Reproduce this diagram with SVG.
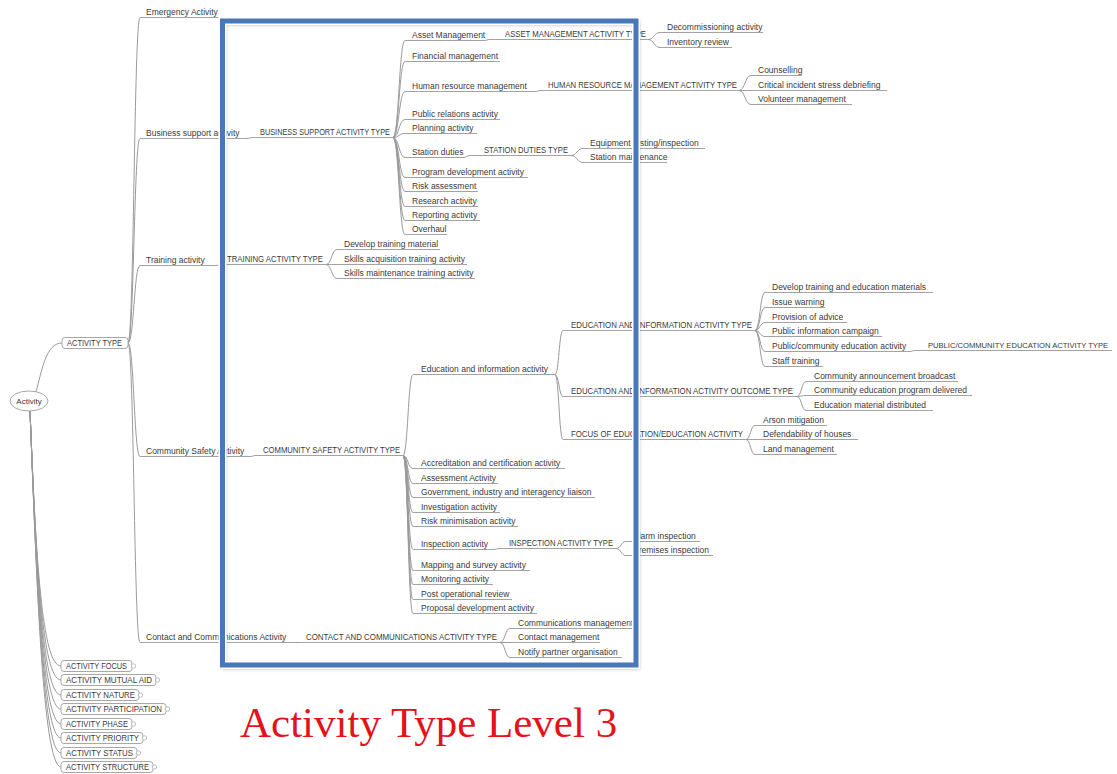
<svg xmlns="http://www.w3.org/2000/svg" width="1117" height="774" viewBox="0 0 1117 774">
<defs>
<style>
.t{font-family:"Liberation Sans",Arial,sans-serif;font-size:8.5px;fill:#3a3a3a}
.c{font-family:"Liberation Sans",Arial,sans-serif;font-size:8.3px;fill:#3a3a3a}
.u{stroke:#a3a3a3;stroke-width:1;fill:none}
.k{stroke:#9a9a9a;stroke-width:1;fill:none}
.b{fill:#fff;stroke:#a8a8a8;stroke-width:1}
.ind{fill:#fff;stroke:#b0b0b0;stroke-width:0.8}
.title{font-family:"Liberation Serif","Times New Roman",serif;font-size:43px;fill:#e3121b}
</style>
<filter id="sh" x="-5%" y="-5%" width="110%" height="110%"><feGaussianBlur stdDeviation="1.5"/></filter>
</defs>
<rect width="1117" height="774" fill="#fff"/>

<g id="connectors">
<path class="k" d="M36 392 C42 370 46 343 62 343"/>
<path class="k" d="M30 411 C36 560 42 666 61 666"/>
<path class="k" d="M30 411 C36 560 42 680 61 680"/>
<path class="k" d="M30 411 C36 560 42 695 61 695"/>
<path class="k" d="M30 411 C36 560 42 709 61 709"/>
<path class="k" d="M30 411 C36 560 42 724 61 724"/>
<path class="k" d="M30 411 C36 560 42 738 61 738"/>
<path class="k" d="M30 411 C36 560 42 753 61 753"/>
<path class="k" d="M30 411 C36 560 42 767 61 767"/>
<path class="k" d="M128 343 C134 343 134 17.5 140 17.5"/>
<path class="k" d="M128 343 C134 343 134 138.5 140 138.5"/>
<path class="k" d="M128 343 C134 343 134 265.5 140 265.5"/>
<path class="k" d="M128 343 C134 343 134 456.5 140 456.5"/>
<path class="k" d="M128 343 C134 343 134 642.5 140 642.5"/>
<path class="k" d="M246 138.5 C250 138.5 250 137.5 254 137.5"/>
<path class="k" d="M216 265.5 C218.5 265.5 218.5 264.5 221 264.5"/>
<path class="k" d="M250 456.5 C253 456.5 253 455.5 256 455.5"/>
<path class="k" d="M290 642.5 C294 642.5 294 642.5 298 642.5"/>
<path class="k" d="M393 137.5 C399 137.5 399 40.5 405 40.5"/>
<path class="k" d="M393 137.5 C399 137.5 399 61.5 405 61.5"/>
<path class="k" d="M393 137.5 C399 137.5 399 91.5 405 91.5"/>
<path class="k" d="M393 137.5 C399 137.5 399 119.5 405 119.5"/>
<path class="k" d="M393 137.5 C399 137.5 399 133.5 405 133.5"/>
<path class="k" d="M393 137.5 C399 137.5 399 157.5 405 157.5"/>
<path class="k" d="M393 137.5 C399 137.5 399 177.5 405 177.5"/>
<path class="k" d="M393 137.5 C399 137.5 399 191.5 405 191.5"/>
<path class="k" d="M393 137.5 C399 137.5 399 206.5 405 206.5"/>
<path class="k" d="M393 137.5 C399 137.5 399 220.5 405 220.5"/>
<path class="k" d="M393 137.5 C399 137.5 399 234.5 405 234.5"/>
<path class="k" d="M484 40.5 C487 40.5 487 39.5 490 39.5"/>
<path class="k" d="M648 39.5 C654 39.5 654 32.5 660 32.5"/>
<path class="k" d="M648 39.5 C654 39.5 654 47.5 660 47.5"/>
<path class="k" d="M535 91.5 C538 91.5 538 90.5 541 90.5"/>
<path class="k" d="M739 90.5 C745 90.5 745 75.5 751 75.5"/>
<path class="k" d="M739 90.5 C745 90.5 745 90.5 751 90.5"/>
<path class="k" d="M739 90.5 C745 90.5 745 104.5 751 104.5"/>
<path class="k" d="M463 157.5 C466.5 157.5 466.5 155.5 470 155.5"/>
<path class="k" d="M571 155.5 C577 155.5 577 148.5 583 148.5"/>
<path class="k" d="M571 155.5 C577 155.5 577 162.5 583 162.5"/>
<path class="k" d="M326 264.5 C331.5 264.5 331.5 249.5 337 249.5"/>
<path class="k" d="M326 264.5 C331.5 264.5 331.5 264.5 337 264.5"/>
<path class="k" d="M326 264.5 C331.5 264.5 331.5 278.5 337 278.5"/>
<path class="k" d="M403 455.5 C408 455.5 408 374.5 413 374.5"/>
<path class="k" d="M403 455.5 C408 455.5 408 468.5 413 468.5"/>
<path class="k" d="M403 455.5 C408 455.5 408 483.5 413 483.5"/>
<path class="k" d="M403 455.5 C408 455.5 408 497.5 413 497.5"/>
<path class="k" d="M403 455.5 C408 455.5 408 512.5 413 512.5"/>
<path class="k" d="M403 455.5 C408 455.5 408 526.5 413 526.5"/>
<path class="k" d="M403 455.5 C408 455.5 408 549.5 413 549.5"/>
<path class="k" d="M403 455.5 C408 455.5 408 570.5 413 570.5"/>
<path class="k" d="M403 455.5 C408 455.5 408 584.5 413 584.5"/>
<path class="k" d="M403 455.5 C408 455.5 408 599.5 413 599.5"/>
<path class="k" d="M403 455.5 C408 455.5 408 613.5 413 613.5"/>
<path class="k" d="M555 374.5 C559 374.5 559 330.5 563 330.5"/>
<path class="k" d="M555 374.5 C559 374.5 559 396.5 563 396.5"/>
<path class="k" d="M555 374.5 C559 374.5 559 439.5 563 439.5"/>
<path class="k" d="M755 330.5 C760 330.5 760 292.5 765 292.5"/>
<path class="k" d="M755 330.5 C760 330.5 760 307.5 765 307.5"/>
<path class="k" d="M755 330.5 C760 330.5 760 322.5 765 322.5"/>
<path class="k" d="M755 330.5 C760 330.5 760 336.5 765 336.5"/>
<path class="k" d="M755 330.5 C760 330.5 760 351.5 765 351.5"/>
<path class="k" d="M755 330.5 C760 330.5 760 366.5 765 366.5"/>
<path class="k" d="M910 351.5 C912.5 351.5 912.5 350.5 915 350.5"/>
<path class="k" d="M797 396.5 C801.5 396.5 801.5 381.5 806 381.5"/>
<path class="k" d="M797 396.5 C801.5 396.5 801.5 395.5 806 395.5"/>
<path class="k" d="M797 396.5 C801.5 396.5 801.5 410.5 806 410.5"/>
<path class="k" d="M746 439.5 C750.5 439.5 750.5 425.5 755 425.5"/>
<path class="k" d="M746 439.5 C750.5 439.5 750.5 439.5 755 439.5"/>
<path class="k" d="M746 439.5 C750.5 439.5 750.5 454.5 755 454.5"/>
<path class="k" d="M493 549.5 C496.5 549.5 496.5 548.5 500 548.5"/>
<path class="k" d="M616 548.5 C621 548.5 621 541.5 626 541.5"/>
<path class="k" d="M616 548.5 C621 548.5 621 555.5 626 555.5"/>
<path class="k" d="M500 642.5 C505 642.5 505 628.5 510 628.5"/>
<path class="k" d="M500 642.5 C505 642.5 505 642.5 510 642.5"/>
<path class="k" d="M500 642.5 C505 642.5 505 657.5 510 657.5"/>
</g>

<g id="n-activity"><ellipse cx="29" cy="401" rx="19" ry="10" class="b"/><text class="t" x="29" y="404" text-anchor="middle" style="font-size:8px">Activity</text></g>
<g id="n-activity-type"><rect x="62" y="337.5" width="66" height="11" rx="3" class="b"/><text class="c" x="67" y="346" textLength="55" lengthAdjust="spacingAndGlyphs">ACTIVITY TYPE</text></g>

<g id="n-emergency"><text class="t" x="146" y="15">Emergency Activity</text><path class="u" d="M140 17.5 H222"/></g>
<g id="n-business"><text class="t" x="146" y="136">Business support activity</text><path class="u" d="M140 138.5 H246"/></g>
<g id="n-training"><text class="t" x="146" y="263">Training activity</text><path class="u" d="M140 265.5 H216"/></g>
<g id="n-community"><text class="t" x="146" y="454">Community Safety Activity</text><path class="u" d="M140 456.5 H250"/></g>
<g id="n-contact"><text class="t" x="146" y="640">Contact and Communications Activity</text><path class="u" d="M140 642.5 H290"/></g>

<g id="n-bs-type"><text class="c" x="260" y="135" textLength="130" lengthAdjust="spacingAndGlyphs">BUSINESS SUPPORT ACTIVITY TYPE</text><path class="u" d="M254 137.5 H393"/></g>
<g id="n-tr-type"><text class="c" x="227" y="262" textLength="96" lengthAdjust="spacingAndGlyphs">TRAINING ACTIVITY TYPE</text><path class="u" d="M221 264.5 H326"/></g>
<g id="n-cs-type"><text class="c" x="263" y="453" textLength="137" lengthAdjust="spacingAndGlyphs">COMMUNITY SAFETY ACTIVITY TYPE</text><path class="u" d="M256 455.5 H403"/></g>
<g id="n-cc-type"><text class="c" x="306" y="640" textLength="191" lengthAdjust="spacingAndGlyphs">CONTACT AND COMMUNICATIONS ACTIVITY TYPE</text><path class="u" d="M298 642.5 H500"/></g>

<g id="n-asset"><text class="t" x="412" y="38">Asset Management</text><path class="u" d="M405 40.5 H484"/></g>
<g id="n-financial"><text class="t" x="412" y="59">Financial management</text><path class="u" d="M405 61.5 H500"/></g>
<g id="n-hrm"><text class="t" x="412" y="89">Human resource management</text><path class="u" d="M405 91.5 H535"/></g>
<g id="n-pr"><text class="t" x="412" y="117">Public relations activity</text><path class="u" d="M405 119.5 H500"/></g>
<g id="n-planning"><text class="t" x="412" y="131">Planning activity</text><path class="u" d="M405 133.5 H477"/></g>
<g id="n-station"><text class="t" x="412" y="155">Station duties</text><path class="u" d="M405 157.5 H463"/></g>
<g id="n-program"><text class="t" x="412" y="175">Program development activity</text><path class="u" d="M405 177.5 H528"/></g>
<g id="n-risk"><text class="t" x="412" y="189">Risk assessment</text><path class="u" d="M405 191.5 H478"/></g>
<g id="n-research"><text class="t" x="412" y="204">Research activity</text><path class="u" d="M405 206.5 H478"/></g>
<g id="n-reporting"><text class="t" x="412" y="218">Reporting activity</text><path class="u" d="M405 220.5 H480"/></g>
<g id="n-overhaul"><text class="t" x="412" y="232">Overhaul</text><path class="u" d="M405 234.5 H447"/></g>

<g id="n-asset-type"><text class="c" x="505" y="37" textLength="141" lengthAdjust="spacingAndGlyphs">ASSET MANAGEMENT ACTIVITY TYPE</text><path class="u" d="M490 39.5 H648"/></g>
<g id="n-decom"><text class="t" x="667" y="30">Decommissioning activity</text><path class="u" d="M660 32.5 H763"/></g>
<g id="n-inventory"><text class="t" x="667" y="45">Inventory review</text><path class="u" d="M660 47.5 H732"/></g>

<g id="n-hrm-type"><text class="c" x="548" y="88" textLength="189" lengthAdjust="spacingAndGlyphs">HUMAN RESOURCE MANAGEMENT ACTIVITY TYPE</text><path class="u" d="M541 90.5 H739"/></g>
<g id="n-counselling"><text class="t" x="758" y="73">Counselling</text><path class="u" d="M751 75.5 H802"/></g>
<g id="n-critical"><text class="t" x="758" y="88">Critical incident stress debriefing</text><path class="u" d="M751 90.5 H887"/></g>
<g id="n-volunteer"><text class="t" x="758" y="102">Volunteer management</text><path class="u" d="M751 104.5 H852"/></g>

<g id="n-station-type"><text class="c" x="484" y="153" textLength="84" lengthAdjust="spacingAndGlyphs">STATION DUTIES TYPE</text><path class="u" d="M470 155.5 H571"/></g>
<g id="n-equipment"><text class="t" x="590" y="146">Equipment testing/inspection</text><path class="u" d="M583 148.5 H705"/></g>
<g id="n-station-maint"><text class="t" x="590" y="160">Station maintenance</text><path class="u" d="M583 162.5 H667"/></g>

<g id="n-develop-tm"><text class="t" x="344" y="247">Develop training material</text><path class="u" d="M337 249.5 H440"/></g>
<g id="n-skills-acq"><text class="t" x="344" y="262">Skills acquisition training activity</text><path class="u" d="M337 264.5 H467"/></g>
<g id="n-skills-maint"><text class="t" x="344" y="276">Skills maintenance training activity</text><path class="u" d="M337 278.5 H475"/></g>

<g id="n-edu"><text class="t" x="421" y="372">Education and information activity</text><path class="u" d="M413 374.5 H555"/></g>
<g id="n-accred"><text class="t" x="421" y="466">Accreditation and certification activity</text><path class="u" d="M413 468.5 H565"/></g>
<g id="n-assess"><text class="t" x="421" y="481">Assessment Activity</text><path class="u" d="M413 483.5 H498"/></g>
<g id="n-gov"><text class="t" x="421" y="495">Government, industry and interagency liaison</text><path class="u" d="M413 497.5 H595"/></g>
<g id="n-invest"><text class="t" x="421" y="510">Investigation activity</text><path class="u" d="M413 512.5 H500"/></g>
<g id="n-riskmin"><text class="t" x="421" y="524">Risk minimisation activity</text><path class="u" d="M413 526.5 H518"/></g>
<g id="n-inspect"><text class="t" x="421" y="547">Inspection activity</text><path class="u" d="M413 549.5 H493"/></g>
<g id="n-mapping"><text class="t" x="421" y="568">Mapping and survey activity</text><path class="u" d="M413 570.5 H530"/></g>
<g id="n-monitor"><text class="t" x="421" y="582">Monitoring activity</text><path class="u" d="M413 584.5 H493"/></g>
<g id="n-post"><text class="t" x="421" y="597">Post operational review</text><path class="u" d="M413 599.5 H512"/></g>
<g id="n-proposal"><text class="t" x="421" y="611">Proposal development activity</text><path class="u" d="M413 613.5 H537"/></g>

<g id="n-ei-type"><text class="c" x="571" y="328" textLength="181" lengthAdjust="spacingAndGlyphs">EDUCATION AND INFORMATION ACTIVITY TYPE</text><path class="u" d="M563 330.5 H755"/></g>
<g id="n-ei-outcome"><text class="c" x="571" y="394" textLength="222" lengthAdjust="spacingAndGlyphs">EDUCATION AND INFORMATION ACTIVITY OUTCOME TYPE</text><path class="u" d="M563 396.5 H797"/></g>
<g id="n-focus"><text class="c" x="571" y="437" textLength="172" lengthAdjust="spacingAndGlyphs">FOCUS OF EDUCATION/EDUCATION ACTIVITY</text><path class="u" d="M563 439.5 H746"/></g>

<g id="n-dtem"><text class="t" x="772" y="290">Develop training and education materials</text><path class="u" d="M765 292.5 H933"/></g>
<g id="n-issue"><text class="t" x="772" y="305">Issue warning</text><path class="u" d="M765 307.5 H825"/></g>
<g id="n-advice"><text class="t" x="772" y="320">Provision of advice</text><path class="u" d="M765 322.5 H847"/></g>
<g id="n-pic"><text class="t" x="772" y="334">Public information campaign</text><path class="u" d="M765 336.5 H882"/></g>
<g id="n-pce"><text class="t" x="772" y="349">Public/community education activity</text><path class="u" d="M765 351.5 H910"/></g>
<g id="n-staff"><text class="t" x="772" y="364">Staff training</text><path class="u" d="M765 366.5 H823"/></g>
<g id="n-pce-type"><text class="c" x="928" y="348" style="font-size:7.6px">PUBLIC/COMMUNITY EDUCATION ACTIVITY TYPE</text><path class="u" d="M915 350.5 H1112"/></g>

<g id="n-cab"><text class="t" x="814" y="379">Community announcement broadcast</text><path class="u" d="M806 381.5 H958"/></g>
<g id="n-cepd"><text class="t" x="814" y="393">Community education program delivered</text><path class="u" d="M806 395.5 H972"/></g>
<g id="n-emd"><text class="t" x="814" y="408">Education material distributed</text><path class="u" d="M806 410.5 H933"/></g>

<g id="n-arson"><text class="t" x="763" y="423">Arson mitigation</text><path class="u" d="M755 425.5 H827"/></g>
<g id="n-defend"><text class="t" x="763" y="437">Defendability of houses</text><path class="u" d="M755 439.5 H858"/></g>
<g id="n-land"><text class="t" x="763" y="452">Land management</text><path class="u" d="M755 454.5 H837"/></g>

<g id="n-insp-type"><text class="c" x="509" y="546" textLength="104" lengthAdjust="spacingAndGlyphs">INSPECTION ACTIVITY TYPE</text><path class="u" d="M500 548.5 H616"/></g>
<g id="n-alarm"><text class="t" x="633" y="539">Alarm inspection</text><path class="u" d="M626 541.5 H700"/></g>
<g id="n-premises"><text class="t" x="633" y="553">Premises inspection</text><path class="u" d="M626 555.5 H713"/></g>

<g id="n-comm-mgmt"><text class="t" x="518" y="626">Communications management</text><path class="u" d="M510 628.5 H634"/></g>
<g id="n-contact-mgmt"><text class="t" x="518" y="640">Contact management</text><path class="u" d="M510 642.5 H600"/></g>
<g id="n-notify"><text class="t" x="518" y="655">Notify partner organisation</text><path class="u" d="M510 657.5 H622"/></g>

<g id="n-af"><rect x="61" y="660.5" width="71" height="11" rx="3" class="b"/><circle cx="133.5" cy="666" r="2.2" class="ind"/><text class="c" x="66" y="669" textLength="61" lengthAdjust="spacingAndGlyphs">ACTIVITY FOCUS</text></g>
<g id="n-ama"><rect x="61" y="674.5" width="95" height="11" rx="3" class="b"/><circle cx="157.5" cy="680" r="2.2" class="ind"/><text class="c" x="66" y="683" textLength="86" lengthAdjust="spacingAndGlyphs">ACTIVITY MUTUAL AID</text></g>
<g id="n-an"><rect x="61" y="689.5" width="78" height="11" rx="3" class="b"/><circle cx="140.5" cy="695" r="2.2" class="ind"/><text class="c" x="66" y="698" textLength="69" lengthAdjust="spacingAndGlyphs">ACTIVITY NATURE</text></g>
<g id="n-ap"><rect x="61" y="703.5" width="105" height="11" rx="3" class="b"/><circle cx="167.5" cy="709" r="2.2" class="ind"/><text class="c" x="66" y="712" textLength="96" lengthAdjust="spacingAndGlyphs">ACTIVITY PARTICIPATION</text></g>
<g id="n-aph"><rect x="61" y="718.5" width="71" height="11" rx="3" class="b"/><circle cx="133.5" cy="724" r="2.2" class="ind"/><text class="c" x="66" y="727" textLength="62" lengthAdjust="spacingAndGlyphs">ACTIVITY PHASE</text></g>
<g id="n-apr"><rect x="61" y="732.5" width="82" height="11" rx="3" class="b"/><circle cx="144.5" cy="738" r="2.2" class="ind"/><text class="c" x="66" y="741" textLength="73" lengthAdjust="spacingAndGlyphs">ACTIVITY PRIORITY</text></g>
<g id="n-as"><rect x="61" y="747.5" width="76" height="11" rx="3" class="b"/><circle cx="138.5" cy="753" r="2.2" class="ind"/><text class="c" x="66" y="756" textLength="67" lengthAdjust="spacingAndGlyphs">ACTIVITY STATUS</text></g>
<g id="n-ast"><rect x="61" y="761.5" width="92" height="11" rx="3" class="b"/><circle cx="154.5" cy="767" r="2.2" class="ind"/><text class="c" x="66" y="770" textLength="83" lengthAdjust="spacingAndGlyphs">ACTIVITY STRUCTURE</text></g>

<g id="highlight">
<rect x="224" y="23" width="413.5" height="644" fill="none" stroke="#888" stroke-width="5" opacity="0.45" filter="url(#sh)"/>
<rect x="222.5" y="21" width="413.5" height="644" fill="none" stroke="#fff" stroke-width="8"/>
<rect x="222.5" y="21" width="413.5" height="644" fill="none" stroke="#4a77b7" stroke-width="5"/>
</g>

<text class="title" x="240" y="737">Activity Type Level 3</text>
</svg>
